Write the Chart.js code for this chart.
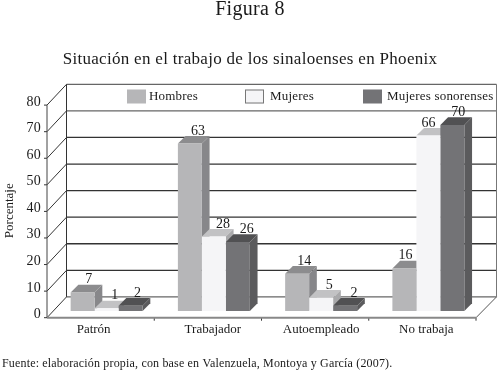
<!DOCTYPE html>
<html>
<head>
<meta charset="utf-8">
<style>
  body { margin: 0; background: #fff; }
  canvas { display: block; }
</style>
<script src="https://cdn.jsdelivr.net/npm/chart.js@4"></script>
</head>
<body>
<canvas id="chart" width="500" height="374"></canvas>
<script>
// DATA
const categories = ["Patrón", "Trabajador", "Autoempleado", "No trabaja"];
const hombres = [7, 63, 14, 16];
const mujeres = [1, 28, 5, 66];
const sonorenses = [2, 26, 2, 70];
const seriesNames = ["Hombres", "Mujeres", "Mujeres sonorenses"];
const yTicks = [0, 10, 20, 30, 40, 50, 60, 70, 80];
const figureTitle = "Figura 8";
const chartTitle = "Situación en el trabajo de los sinaloenses en Phoenix";
const yTitle = "Porcentaje";
const sourceNote = "Fuente: elaboración propia, con base en Valenzuela, Montoya y García (2007).";

// COLORS  front / top / side
const shades = [
  { front: "#b6b6b8", top: "#8c8c8e", side: "#87878a" },
  { front: "#f5f5f7", top: "#c2c2c4", side: "#a9a9ab" },
  { front: "#737376", top: "#515153", side: "#5b5b5d" },
];

const serif = "'Liberation Serif', serif";
const barDepth = 7.7;
const plane = { dx: -6, dy: 6.7 };   // front edge of floor, from the bar plane
const wall = { dx: 13.5, dy: -14.1 }; // back wall, from the bar plane
const legendBoxX = [127, 245, 363];
const legendTextX = [149, 270, 387];
const catLabelShift = [-13, -1, 0, -2];
const valueShift = [
  [[6, 0], [8, 0], [7, 0]],
  [[8, 0], [9, 0], [9, 0]],
  [[7, 0], [8, 0], [9, 0]],
  [[1, 0], [0, 0], [6, 0]],
];

function line(ctx, x1, y1, x2, y2, color, width) {
  ctx.strokeStyle = color;
  ctx.lineWidth = width;
  ctx.beginPath();
  ctx.moveTo(x1, y1);
  ctx.lineTo(x2, y2);
  ctx.stroke();
}

function poly(ctx, pts, color) {
  ctx.fillStyle = color;
  ctx.beginPath();
  pts.forEach((p, i) => (i ? ctx.lineTo(p[0], p[1]) : ctx.moveTo(p[0], p[1])));
  ctx.closePath();
  ctx.fill();
}

function text(ctx, str, x, y, font, align, spacing) {
  ctx.font = font;
  ctx.letterSpacing = spacing || "0px";
  ctx.fillStyle = "#1a1a1a";
  ctx.textAlign = align || "center";
  ctx.textBaseline = "middle";
  ctx.fillText(str, x, y);
}

const box3d = {
  id: "box3d",
  beforeDraw(chart) {
    // wider setting of the book text, picked up by titles and ticks
    chart.ctx.letterSpacing = "0.3px";
  },
  beforeDatasetsDraw(chart) {
    const { ctx, chartArea: area, scales } = chart;
    const y = scales.y;
    const frontL = area.left + plane.dx;
    const frontR = area.right + plane.dx;
    const backL = area.left + wall.dx;
    const backR = area.right + wall.dx + 1;

    ctx.save();
    // walls and grid
    yTicks.forEach((v) => {
      const py = y.getPixelForValue(v);
      const color = v === 0 || v === 80 || v === 70 ? "#666" : "#333";
      if (v > 0) line(ctx, frontL, py + plane.dy, backL, py + wall.dy, "#333", 1);
      line(ctx, backL, py + wall.dy, backR, py + wall.dy, color, 1.3);
      line(ctx, frontL - 3, py + plane.dy, frontL, py + plane.dy, "#333", 1);
    });
    const y0 = y.getPixelForValue(0);
    const yTop = y.getPixelForValue(80);
    line(ctx, backL, y0 + wall.dy, backL, yTop + wall.dy, "#333", 1);
    line(ctx, backR, y0 + wall.dy, backR, yTop + wall.dy, "#777", 1);
    line(ctx, frontL, y0 + plane.dy, frontL, yTop + plane.dy, "#444", 1);
    // floor
    line(ctx, frontL, y0 + plane.dy, backL, y0 + wall.dy, "#333", 1);
    line(ctx, frontR, y0 + plane.dy, backR, y0 + wall.dy, "#555", 1);
    categories.forEach((c, i) => {
      const px = frontL + ((i + 1) * (frontR - frontL)) / categories.length;
      line(ctx, px, y0 + plane.dy, px, y0 + plane.dy + 3, "#333", 1);
    });

    // legend
    seriesNames.forEach((name, i) => {
      const s = shades[i];
      ctx.fillStyle = s.front;
      ctx.fillRect(legendBoxX[i], 89.5, 19, 14);
      if (i === 1) {
        ctx.strokeStyle = "#777";
        ctx.lineWidth = 1;
        ctx.strokeRect(legendBoxX[i] + 0.5, 90, 18, 13);
      }
      text(ctx, name, legendTextX[i], 97, "13px " + serif, "left", "0.2px");
    });

    // top and side faces, left to right
    chart.data.datasets.forEach((ds, d) => {
      chart.getDatasetMeta(d).data.forEach((bar) => {
        const hw = bar.width / 2;
        const l = bar.x - hw;
        const r = bar.x + hw;
        poly(ctx, [[l, bar.y], [r, bar.y], [r + barDepth, bar.y - barDepth], [l + barDepth, bar.y - barDepth]], shades[d].top);
        poly(ctx, [[r, bar.y], [r + barDepth, bar.y - barDepth], [r + barDepth, bar.base - barDepth], [r, bar.base]], shades[d].side);
      });
    });
    ctx.restore();
  },
  afterDatasetsDraw(chart) {
    const { ctx, chartArea: area, scales } = chart;
    const y0 = scales.y.getPixelForValue(0);
    ctx.save();
    // floor front edge on top of everything
    line(ctx, area.left + plane.dx, y0 + plane.dy, area.right + plane.dx, y0 + plane.dy, "#888", 2);
    // value labels
    chart.data.datasets.forEach((ds, d) => {
      chart.getDatasetMeta(d).data.forEach((bar, i) => {
        const s = valueShift[i][d];
        text(ctx, String(ds.data[i]), bar.x + s[0], bar.y - barDepth - 5 + s[1], "14px " + serif);
      });
    });
    // category labels
    categories.forEach((c, i) => {
      text(ctx, c, scales.x.getPixelForTick(i) + catLabelShift[i], 330, "13px " + serif);
    });
    text(ctx, sourceNote, 2, 364, "12px " + serif, "left", "0.17px");
    // y axis title
    ctx.translate(9.5, 210.7);
    ctx.rotate(-Math.PI / 2);
    text(ctx, yTitle, 0, 0, "13px " + serif);
    ctx.restore();
  },
};

const makeSet = (label, values, i) => ({
  label: label,
  data: values,
  backgroundColor: shades[i].front,
  borderWidth: 0,
  categoryPercentage: 0.671,
  barPercentage: 1,
});

new Chart(document.getElementById("chart"), {
  type: "bar",
  data: {
    labels: categories,
    datasets: [
      makeSet(seriesNames[0], hombres, 0),
      makeSet(seriesNames[1], mujeres, 1),
      makeSet(seriesNames[2], sonorenses, 2),
    ],
  },
  plugins: [box3d],
  options: {
    responsive: false,
    animation: false,
    plugins: {
      legend: { display: false },
      tooltip: { enabled: false },
      title: {
        display: true,
        text: figureTitle,
        color: "#1a1a1a",
        font: { family: serif, size: 20, weight: "normal", lineHeight: 1 },
        padding: { top: 0, bottom: 0 },
      },
      subtitle: {
        display: true,
        text: chartTitle,
        color: "#1a1a1a",
        font: { family: serif, size: 17, weight: "normal", lineHeight: 1.2 },
        padding: { top: 29, bottom: 29 },
      },
    },
    scales: {
      x: {
        grid: { display: false },
        border: { display: false },
        ticks: { display: false },
        afterFit(scale) {
          scale.height = 63;
        },
      },
      y: {
        min: 0,
        max: 80,
        afterFit(scale) {
          scale.width = 53;
        },
        afterBuildTicks(scale) {
          scale.ticks = yTicks.map((v) => ({ value: v }));
        },
        grid: { display: false, drawTicks: false },
        border: { display: false },
        ticks: {
          color: "#1a1a1a",
          font: { family: serif, size: 14 },
          padding: 12,
          labelOffset: 3.5,
        },
      },
      // empty right axis keeps the plot off the right edge while titles stay centred
      yRight: {
        position: "right",
        min: 0,
        max: 80,
        grid: { display: false, drawTicks: false },
        border: { display: false },
        ticks: { display: false },
        afterFit(scale) {
          scale.width = 18;
        },
      },
    },
  },
});
</script>
</body>
</html>
